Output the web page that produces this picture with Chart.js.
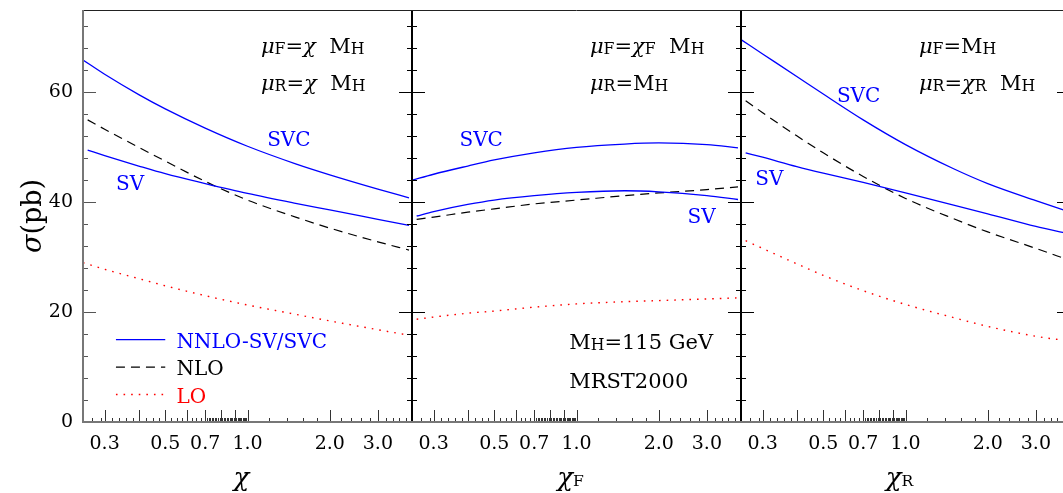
<!DOCTYPE html>
<html>
<head>
<meta charset="utf-8">
<script src="https://cdn.jsdelivr.net/npm/chart.js@4"></script>
<style>
  html, body { margin: 0; padding: 0; overflow: hidden; background: #fff; }
  #wrap { position: relative; width: 1070px; height: 493px; }
</style>
</head>
<body>
<div id="wrap"><canvas id="chart"></canvas></div>
<script>
// x positions of the curves (chi); some curves start a bit later
const xFull = [0.25, 0.3, 0.4, 0.5, 0.7, 1.0, 1.5, 2.0, 3.0, 3.9];
const xLate = [0.26, 0.3, 0.4, 0.5, 0.7, 1.0, 1.5, 2.0, 3.0, 3.9];

// panel 1 : muF = muR = chi MH
const svc1 = [65.9, 63.3, 59.6, 57.0, 53.5, 50.2, 47.0, 45.0, 42.4, 40.8];
const sv1  = [49.5, 48.5, 46.6, 45.2, 43.4, 41.6, 39.8, 38.6, 36.9, 35.8];
const nlo1 = [55.0, 53.3, 50.0, 47.5, 43.8, 40.4, 37.3, 35.3, 32.8, 31.3];
const lo1  = [29.0, 27.8, 26.1, 24.8, 23.0, 21.3, 19.6, 18.4, 16.8, 15.8];

// panel 2 : muF = chiF MH, muR = MH
const svc2 = [44.0, 45.1, 46.6, 47.7, 49.0, 50.0, 50.6, 50.8, 50.5, 49.9];
const sv2  = [37.5, 38.3, 39.6, 40.4, 41.2, 41.8, 42.1, 41.9, 41.2, 40.5];
const nlo2 = [36.9, 37.3, 38.2, 38.8, 39.7, 40.4, 41.2, 41.7, 42.3, 42.8];
const lo2  = [18.7, 19.1, 19.8, 20.2, 20.9, 21.5, 21.9, 22.1, 22.4, 22.6];

// panel 3 : muF = MH, muR = chiR MH
const svc3 = [69.6, 67.0, 62.9, 59.7, 55.0, 50.5, 46.1, 43.4, 40.3, 38.4];
const sv3  = [49.0, 48.2, 46.5, 45.3, 43.6, 41.7, 39.5, 37.9, 35.6, 34.3];
const nlo3 = [58.5, 56.3, 52.1, 49.0, 44.7, 40.7, 37.0, 34.6, 31.6, 29.6];
const lo3  = [33.0, 31.6, 28.8, 26.7, 23.9, 21.4, 19.0, 17.4, 15.6, 14.8];

const yTicks = [0, 20, 40, 60];
const xTickVals = [0.3, 0.5, 0.7, 1.0, 2.0, 3.0];
const xTickText = ['0.3', '0.5', '0.7', '1.0', '2.0', '3.0'];
const legendText = ['NNLO-SV/SVC', 'NLO', 'LO'];

const fam = '"DejaVu Serif", serif';
const BLUE = '#0000ff', RED = '#ff0000';

// major / minor tick marks along the chi axes
const majorX = [0.3, 0.4, 0.5, 0.6, 0.7, 0.8, 0.9, 1, 2, 3];
const minorX = [];
[[0.25, 0.3, 0.02], [0.3, 0.4, 0.02], [0.4, 0.7, 0.025], [0.7, 1.0, 0.01], [1, 4, 0.2]].forEach(([a, b, st]) => {
  for (let v = a + st; v < b - 1e-6; v += st) {
    if (!majorX.some(m => Math.abs(m - v) < 1e-6)) minorX.push(v);
  }
});

function pts(xs, ys) { return ys.map((y, i) => ({ x: xs[i], y: y })); }

function curves(id, svc, sv, nlo, lo, xsvc, xsv, xnlo, xlo) {
  const base = { xAxisID: id, pointRadius: 0, fill: false, cubicInterpolationMode: 'monotone' };
  return [
    Object.assign({ label: legendText[0], data: pts(xsvc, svc), borderColor: BLUE, borderWidth: 1.3 }, base),
    Object.assign({ label: legendText[0], data: pts(xsv, sv), borderColor: BLUE, borderWidth: 1.3 }, base),
    Object.assign({ label: legendText[1], data: pts(xnlo, nlo), borderColor: '#000', borderWidth: 1.2, borderDash: [9, 6] }, base),
    Object.assign({ label: legendText[2], data: pts(xlo, lo), borderColor: RED, borderWidth: 1.4, borderDash: [1.6, 6] }, base)
  ];
}

// text labels, placed in data coordinates of each panel
const notes = [
  { axis: 'x1', x: 1.12, y: 67.1, size: 21, color: '#000', parts: [['μ', 'i'], ['F', 's'], ['=', 'r'], ['χ', 'i'], ['  M', 'r'], ['H', 's']] },
  { axis: 'x1', x: 1.12, y: 60.4, size: 21, color: '#000', parts: [['μ', 'i'], ['R', 's'], ['=', 'r'], ['χ', 'i'], ['  M', 'r'], ['H', 's']] },
  { axis: 'x1', x: 1.18, y: 50.2, size: 20, color: BLUE, parts: [['SVC', 'r']] },
  { axis: 'x1', x: 0.33, y: 42.3, size: 20, color: BLUE, parts: [['SV', 'r']] },
  { axis: 'x2', x: 1.12, y: 67.1, size: 21, color: '#000', parts: [['μ', 'i'], ['F', 's'], ['=', 'r'], ['χ', 'i'], ['F', 's'], ['  M', 'r'], ['H', 's']] },
  { axis: 'x2', x: 1.12, y: 60.4, size: 21, color: '#000', parts: [['μ', 'i'], ['R', 's'], ['=M', 'r'], ['H', 's']] },
  { axis: 'x2', x: 0.373, y: 50.2, size: 20, color: BLUE, parts: [['SVC', 'r']] },
  { axis: 'x2', x: 2.55, y: 36.2, size: 20, color: BLUE, parts: [['SV', 'r']] },
  { axis: 'x2', x: 0.94, y: 13.2, size: 21, color: '#000', parts: [['M', 'r'], ['H', 's'], ['=115 GeV', 'r']] },
  { axis: 'x2', x: 0.94, y: 6.2, size: 21, color: '#000', parts: [['MRST2000', 'r']] },
  { axis: 'x3', x: 1.12, y: 67.1, size: 21, color: '#000', parts: [['μ', 'i'], ['F', 's'], ['=M', 'r'], ['H', 's']] },
  { axis: 'x3', x: 1.12, y: 60.4, size: 21, color: '#000', parts: [['μ', 'i'], ['R', 's'], ['=', 'r'], ['χ', 'i'], ['R', 's'], ['  M', 'r'], ['H', 's']] },
  { axis: 'x3', x: 0.561, y: 58.2, size: 20, color: BLUE, parts: [['SVC', 'r']] },
  { axis: 'x3', x: 0.282, y: 43.1, size: 20, color: BLUE, parts: [['SV', 'r']] }
];
const axisTitles = [
  { axis: 'x1', parts: [['χ', 'i']] },
  { axis: 'x2', parts: [['χ', 'i'], ['F', 's']] },
  { axis: 'x3', parts: [['χ', 'i'], ['R', 's']] }
];

function richWidth(ctx, parts, size, subScale) {
  let w = 0;
  for (const [t, st] of parts) {
    const fs = st === 's' ? size * subScale : size;
    ctx.font = (st === 'i' ? 'italic ' : '') + fs + 'px ' + fam;
    w += ctx.measureText(t).width;
  }
  return w;
}
function rich(ctx, x, y, parts, size, color, subScale, subDrop) {
  ctx.fillStyle = color;
  ctx.textAlign = 'left';
  ctx.textBaseline = 'alphabetic';
  for (const [t, st] of parts) {
    const sub = st === 's';
    const fs = sub ? size * subScale : size;
    ctx.font = (st === 'i' ? 'italic ' : '') + fs + 'px ' + fam;
    ctx.fillText(t, x, y + (sub ? subDrop : 0));
    x += ctx.measureText(t).width;
  }
}

function line(ctx, x1, y1, x2, y2) {
  ctx.beginPath(); ctx.moveTo(x1, y1); ctx.lineTo(x2, y2); ctx.stroke();
}

const framePlugin = {
  id: 'frame',
  afterDatasetsDraw(chart) {
    const ctx = chart.ctx, ca = chart.chartArea, ys = chart.scales.y;
    ctx.save();
    ctx.setLineDash([]);
    ['x1', 'x2', 'x3'].forEach((id, k) => {
      const s = chart.scales[id];
      // sigma ticks on both panel edges, pointing inward
      for (let v = 4; v < 75; v += 4) {
        const py = Math.round(ys.getPixelForValue(v)) + 0.5;
        const len = v % 20 === 0 ? 13 : 5;
        ctx.lineWidth = 1;
        ctx.strokeStyle = k === 0 ? '#555' : '#000';
        line(ctx, s.left, py, s.left + len, py);
        ctx.strokeStyle = '#000';
        line(ctx, s.right, py, s.right - len, py);
      }
      // chi ticks along the bottom
      ctx.strokeStyle = '#333';
      ctx.lineWidth = 1;
      majorX.forEach(v => {
        const px = Math.round(s.getPixelForValue(v)) + 0.5;
        line(ctx, px, ca.bottom, px, ca.bottom - 12);
      });
      minorX.forEach(v => {
        const px = Math.round(s.getPixelForValue(v)) + 0.5;
        line(ctx, px, ca.bottom, px, ca.bottom - 4);
      });
      // panel separators
      ctx.strokeStyle = '#000';
      ctx.lineWidth = 1;
      if (k > 0) line(ctx, Math.round(s.left) + 0.5, ca.top, Math.round(s.left) + 0.5, ca.bottom);
      line(ctx, Math.round(s.right) - 0.5, ca.top, Math.round(s.right) - 0.5, ca.bottom);
    });
    // outer frame
    ctx.strokeStyle = '#222';
    ctx.lineWidth = 1;
    line(ctx, ca.left, Math.round(ca.top) + 0.5, ca.right, Math.round(ca.top) + 0.5);
    ctx.strokeStyle = '#777';
    ctx.lineWidth = 2;
    line(ctx, ca.left, ca.top, ca.left, ca.bottom + 1);
    line(ctx, ca.left, ca.bottom, ca.right, ca.bottom);

    // text notes
    notes.forEach(n => {
      const s = chart.scales[n.axis];
      rich(ctx, s.getPixelForValue(n.x), ys.getPixelForValue(n.y), n.parts, n.size, n.color, 0.75, 1);
    });

    // legend inside panel 1, drawn with the datasets' own styles
    const s1 = chart.scales.x1;
    [[0, 15], [2, 10], [3, 5]].forEach(([di, yv]) => {
      const ds = chart.data.datasets[di];
      const py = ys.getPixelForValue(yv);
      ctx.save();
      ctx.strokeStyle = ds.borderColor;
      ctx.lineWidth = ds.borderWidth;
      ctx.setLineDash(ds.borderDash || []);
      line(ctx, s1.getPixelForValue(0.33), py, s1.getPixelForValue(0.5), py);
      ctx.restore();
      rich(ctx, s1.getPixelForValue(0.55), py + 8, [[ds.label, 'r']], 20, ds.borderColor, 0.75, 1);
    });

    // axis titles
    axisTitles.forEach(t => {
      const s = chart.scales[t.axis];
      const w = richWidth(ctx, t.parts, 26, 0.6);
      rich(ctx, s.getPixelForValue(0.95) - w / 2, ca.bottom + 64, t.parts, 26, '#000', 0.6, 0);
    });
    const yt = [['σ', 'i'], ['(pb)', 'r']];
    const w = richWidth(ctx, yt, 27, 1);
    ctx.save();
    ctx.translate(ys.left + 41, (ca.top + ca.bottom) / 2);
    ctx.rotate(-Math.PI / 2);
    rich(ctx, -w / 2, 0, yt, 27, '#000', 1, 0);
    ctx.restore();
    ctx.restore();
  }
};

function xScale() {
  return {
    type: 'logarithmic',
    position: 'bottom',
    stack: 'panels',
    stackWeight: 1,
    min: 0.25,
    max: 4,
    grid: { display: false, drawTicks: false },
    border: { display: false },
    afterBuildTicks: s => { s.ticks = xTickVals.map(v => ({ value: v })); },
    afterFit: s => { s.height = 71; s.paddingLeft = 0; s.paddingRight = 0; },
    ticks: {
      autoSkip: false,
      maxRotation: 0,
      padding: 11,
      color: '#000',
      font: { family: fam, size: 19 },
      callback: v => {
        const i = xTickVals.findIndex(t => Math.abs(t - v) < 1e-6);
        return i >= 0 ? xTickText[i] : '';
      }
    }
  };
}

new Chart(document.getElementById('chart'), {
  type: 'line',
  data: {
    datasets: [].concat(
      curves('x1', svc1, sv1, nlo1, lo1, xFull, xLate, xLate, xFull),
      curves('x2', svc2, sv2, nlo2, lo2, xFull, xLate, xLate, xLate),
      curves('x3', svc3, sv3, nlo3, lo3, xFull, xLate, xLate, xLate)
    )
  },
  options: {
    responsive: true,
    maintainAspectRatio: false,
    animation: false,
    layout: { padding: { top: 10, left: 0, right: 0, bottom: 0 } },
    plugins: { legend: { display: false }, tooltip: { enabled: false } },
    scales: {
      x1: xScale(),
      x2: xScale(),
      x3: xScale(),
      y: {
        type: 'linear',
        position: 'left',
        min: 0,
        max: 75,
        grid: { display: false, drawTicks: false },
        border: { display: false },
        afterBuildTicks: s => { s.ticks = yTicks.map(v => ({ value: v })); },
        afterFit: s => { s.width = 83; s.paddingTop = 0; s.paddingBottom = 0; },
        ticks: { padding: 10, color: '#000', font: { family: fam, size: 19 } }
      }
    }
  },
  plugins: [framePlugin]
});
</script>
</body>
</html>
